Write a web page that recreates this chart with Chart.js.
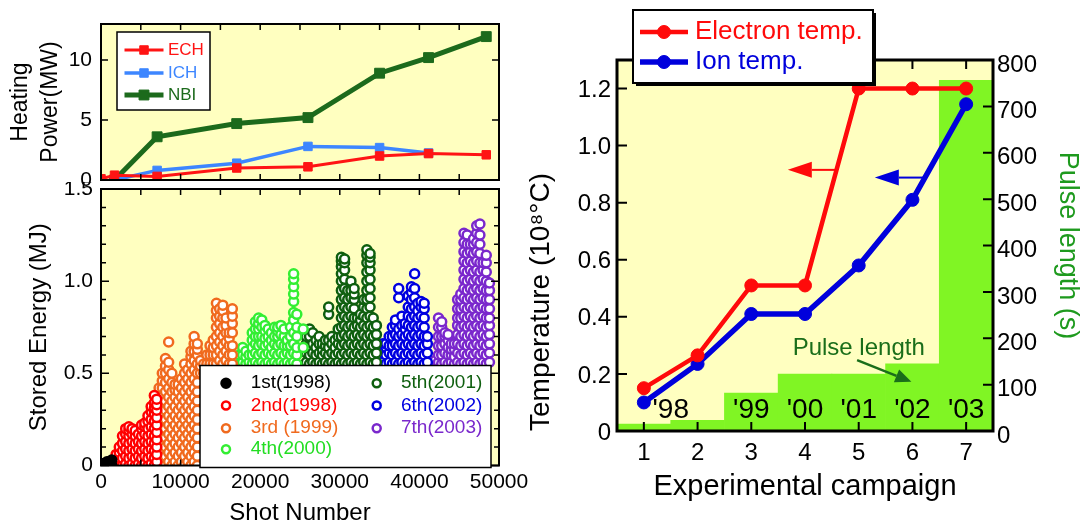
<!DOCTYPE html>
<html>
<head>
<meta charset="utf-8">
<title>LHD campaigns</title>
<script src="https://cdn.jsdelivr.net/npm/chart.js@4.4.1/dist/chart.umd.min.js"></script>
<style>
  html, body { margin: 0; padding: 0; background: #fff; }
  #wrap { position: relative; width: 1086px; height: 525px; overflow: hidden; }
  canvas { position: absolute; }
</style>
</head>
<body>
<div id="wrap">
  <canvas id="heat" width="540" height="195" style="left:0;top:0"></canvas>
  <canvas id="energy" width="540" height="343" style="left:0;top:182px"></canvas>
  <canvas id="temp" width="566" height="525" style="left:520px;top:0"></canvas>
</div>
<script>
// ---- heating power (MW) vs shot number ----
const echShots = [0, 1700, 7050, 17050, 26000, 35000, 41150, 48400];
const ech = [0.1, 0.4, 0.3, 1.0, 1.1, 2.0, 2.2, 2.1];
const ichShots = [1700, 7050, 17050, 26000, 35000, 41150];
const ich = [0, 0.8, 1.4, 2.8, 2.7, 2.25];
const nbiShots = [1700, 7050, 17050, 26000, 35000, 41150, 48400];
const nbi = [0, 3.6, 4.7, 5.2, 8.9, 10.2, 11.95];

// ---- stored energy (MJ), columns of [shot, [energies]] per campaign ----
const camp1 = [[150,[0,0.01]],[450,[0,0.01]],[750,[0,0.02]],[1050,[0,0.01,0.02]],[1350,[0,0.03]]];
const camp2 = [
  [1500,[0,.02,.03]], [1900,[0,.03,.06]], [2300,[0,.04,.07,.1]], [2700,[0,.04,.08,.12,.16]],
  [3100,[.01,.05,.09,.13,.17,.2]], [3500,[0,.04,.08,.12,.16,.19,.21]], [3900,[.01,.05,.09,.13,.17,.2]],
  [4300,[0,.04,.08,.12,.16,.19]], [4700,[.01,.05,.09,.13,.17]], [5100,[0,.04,.08,.12,.16,.2,.22]],
  [5500,[.01,.05,.09,.13,.17,.21,.23]], [5900,[0,.04,.08,.12,.16,.2,.24,.27]],
  [6300,[.01,.05,.09,.13,.17,.21,.25,.29,.32]], [6700,[0,.04,.08,.12,.16,.2,.24,.28,.31,.34,.38]],
  [7000,[.02,.06,.1,.14,.18,.22,.26,.3,.33,.36]]
];
const camp3 = [
  [7300,[0,.05,.1,.15,.2,.25,.3,.35,.39,.42]], [7700,[.02,.07,.12,.17,.22,.27,.32,.37,.42,.46,.5]],
  [8100,[0,.05,.1,.15,.2,.25,.3,.35,.4,.45,.5,.54,.58]], [8500,[.02,.07,.12,.17,.22,.27,.32,.37,.42,.47,.52,.56,.67]],
  [8900,[0,.05,.1,.15,.2,.25,.3,.35,.4,.45,.5]], [9300,[.02,.07,.12,.17,.22,.27,.32,.37,.41,.44]],
  [9700,[0,.05,.1,.15,.2,.25,.3,.35,.4,.44]], [10100,[.02,.07,.12,.17,.22,.27,.32,.37,.42,.47]],
  [10500,[0,.05,.1,.15,.2,.25,.3,.35,.4,.45,.5,.55]], [10900,[.02,.07,.12,.17,.22,.27,.32,.37,.42,.47,.52]],
  [11300,[0,.05,.1,.15,.2,.25,.3,.35,.4,.45,.5,.55,.59,.62]],
  [11700,[.02,.07,.12,.17,.22,.27,.32,.37,.42,.47,.52,.57,.62,.66,.7]],
  [12100,[0,.05,.1,.15,.2,.25,.3,.35,.4,.45,.5,.55,.6,.63,.66]],
  [12500,[.5,.54,.57]], [12900,[.5,.55]], [13300,[.5,.55,.6]], [13700,[.5,.55,.6,.65]],
  [14100,[.5,.55,.6,.64,.68]], [14500,[.5,.55,.6,.65,.7,.75,.8,.84,.88]],
  [14900,[.52,.57,.62,.67,.72,.77,.81,.85]], [15300,[.5,.55,.6,.65,.7,.75,.8,.84,.87]],
  [15700,[.52,.57,.62,.67,.72,.76,.8]], [16100,[.5,.55,.6,.65,.69,.72]],
  [16500,[.55,.6,.65,.72,.77,.81,.85]]
];
const camp4 = [
  [17400,[.55,.6]], [17800,[.56,.6,.64]], [18200,[.55,.59,.62]], [18600,[.56,.6]],
  [19000,[.55,.6,.64,.68,.72]], [19400,[.56,.61,.66,.7,.74,.78]], [19800,[.55,.6,.65,.7,.74,.77,.8]],
  [20200,[.56,.61,.66,.7,.75,.79]], [20600,[.55,.6,.65,.69,.73,.76]], [21000,[.56,.61,.66,.7,.74]],
  [21400,[.55,.6,.64,.68,.72]], [21800,[.56,.61,.66,.7,.75]], [22200,[.55,.6,.65,.7,.73,.75]],
  [22600,[.56,.61,.66,.71,.76]], [23000,[.55,.6,.65,.7,.74]], [23400,[.56,.61,.65,.68]],
  [23800,[.55,.6,.65,.7,.75]], [24200,[.56,.61,.66,.72,.79,.83,.89,.93,.97,1.01,1.04]],
  [24600,[.55,.6,.64,.7,.75,.82]], [25400,[.64,.74]]
];
const camp5 = [
  [25800,[.56,.61,.66,.7]], [26200,[.55,.6,.65,.7,.74]], [26600,[.56,.61,.66,.72]], [27000,[.55,.6,.64,.68]],
  [27400,[.56,.61,.66,.7]], [27800,[.55,.6,.63,.66]], [28200,[.56,.61,.65,.68]], [28600,[.55,.6,.64,.68,.82,.86]],
  [29000,[.56,.61,.66,.7]], [29400,[.55,.6,.64,.68]], [29800,[.56,.61,.66,.7,.74]],
  [30200,[.55,.6,.65,.7,.75,.8,.85,.9,.95,1,1.04,1.08,1.11,1.13]],
  [30600,[.56,.61,.66,.71,.76,.81,.86,.91,.96,1.01,1.06,1.1,1.12]],
  [31000,[.55,.6,.65,.7,.75,.8,.85,.9,.95]], [31400,[.56,.61,.66,.71,.76,.81,.86,.91,.95,1]],
  [31800,[.55,.6,.65,.7,.75,.8,.85,.9,.93,.96]], [32200,[.56,.61,.66,.71,.76,.8]],
  [32600,[.55,.6,.65,.7,.75,.79,.82]], [33000,[.56,.61,.66,.71,.76,.81,.86,.9]],
  [33400,[.55,.6,.65,.7,.75,.8,.85,.9,.95,1,1.05,1.1,1.14,1.17]],
  [33800,[.56,.61,.66,.71,.76,.81,.86,.91,.96,1.01,1.06,1.1,1.13,1.15]],
  [34200,[.55,.6,.65,.7,.75,.8]], [34600,[.56,.61,.66,.71,.76]]
];
const camp6 = [
  [35000,[.55,.6,.64]], [35400,[.56,.61,.66]], [35800,[.55,.6,.64,.66]], [36200,[.56,.61,.65,.7]],
  [36600,[.55,.6,.65,.7,.75]], [37000,[.56,.61,.66,.71,.76,.79]], [37400,[.55,.6,.65,.7,.74,.91,.96]],
  [37800,[.56,.61,.66,.71,.76,.81]], [38200,[.55,.6,.65,.7,.74,.77]], [38600,[.56,.61,.66,.71,.76,.81,.86,.92]],
  [39000,[.55,.6,.65,.7,.75,.8,.85,.9,.94,.97]], [39400,[.56,.61,.66,.71,.76,.81,.86,.91,.96,1.04]],
  [39800,[.55,.6,.65,.7,.75,.8,.84,.88]], [40200,[.56,.61,.66,.71,.76,.81,.86,.89]],
  [40600,[.55,.6,.65,.7,.75,.8,.85,.88]], [41000,[.56,.61,.66,.7]]
];
const camp7 = [
  [42000,[.55,.57]], [42400,[.56,.6,.65,.7,.75,.8]], [42800,[.55,.6,.65,.7,.75,.78]],
  [43200,[.56,.61,.66,.7,.72]], [43600,[.55,.6,.64,.68,.71]], [44000,[.56,.6,.63,.66]],
  [44400,[.55,.59,.63,.66]], [44800,[.56,.61,.66,.71,.76,.8,.85,.9]],
  [45200,[.55,.6,.65,.7,.75,.8,.85,.9,.93]],
  [45600,[.56,.61,.66,.71,.76,.81,.86,.91,.96,1.01,1.06,1.11,1.16,1.21,1.26]],
  [46000,[.55,.6,.65,.7,.75,.8,.85,.9,.95,1,1.05,1.1,1.15,1.2,1.25]],
  [46400,[.56,.61,.66,.71,.76,.81,.86,.91,.96,1.01,1.06,1.11,1.16,1.2]],
  [46800,[.55,.6,.65,.7,.75,.8,.85,.9,.95,1,1.05,1.1,1.15,1.2,1.23]],
  [47200,[.56,.61,.66,.71,.76,.81,.86,.91,.96,1.01,1.06,1.11,1.16,1.21,1.26,1.3]],
  [47600,[.55,.6,.65,.7,.75,.8,.85,.9,.95,1,1.05,1.1,1.15,1.2,1.25,1.31]],
  [48000,[.56,.61,.66,.71,.76,.81,.86,.91,.96,1.01,1.06,1.1]],
  [48400,[.55,.6,.65,.7,.75,.8,.85,.9,.95,1,1.05,1.1,1.14]],
  [48800,[.56,.61,.66,.71,.76,.8,.85,.9,.95,.99]]
];
const campLabels = ["1st(1998)", "2nd(1998)", "3rd (1999)", "4th(2000)", "5th(2001)", "6th(2002)", "7th(2003)"];

// ---- temperature and pulse length per campaign ----
const campaigns = ["1", "2", "3", "4", "5", "6", "7"];
const electronTemp = [0.15, 0.265, 0.51, 0.51, 1.2, 1.2, 1.2];
const ionTemp = [0.10, 0.235, 0.41, 0.41, 0.58, 0.81, 1.145];
const pulseLength = [15, 23, 82, 123, 123, 145, 756];
const yearLabels = ["'98", "'99", "'00", "'01", "'02", "'03"];
const yearAt = [0.5, 2, 3, 4, 5, 6]; // category index where each year label sits

const FONT = '"Liberation Sans", Arial, Helvetica, sans-serif';
Chart.defaults.font.family = FONT;
Chart.defaults.color = '#000';
Chart.defaults.animation = false;

function toPoints(shots, vals) {
  return shots.map((s, i) => ({ x: s, y: vals[i] }));
}
function columnsToPoints(cols) {
  let pts = [];
  cols.forEach(c => c[1].forEach(e => pts.push({ x: c[0], y: e })));
  return pts;
}
// lock axis sizes so the plot areas land where they are in the figure
function fixWidth(w) {
  return function (scale) { scale.width = w; scale.paddingTop = 0; scale.paddingBottom = 0; };
}
function fixHeight(h) {
  return function (scale) { scale.height = h; scale.paddingLeft = 0; scale.paddingRight = 0; };
}

// light yellow plot area
const plotBg = {
  id: 'plotBg',
  beforeDraw(chart) {
    const a = chart.chartArea, ctx = chart.ctx;
    ctx.save();
    ctx.fillStyle = '#ffffc0';
    ctx.fillRect(a.left, a.top, a.right - a.left, a.bottom - a.top);
    ctx.restore();
  }
};

// box around the plot, ticks pointing inwards
const frame = {
  id: 'frame',
  afterDatasetsDraw(chart, args, o) {
    const a = chart.chartArea, ctx = chart.ctx;
    const xs = chart.scales.x, ys = chart.scales[o.leftScale || 'y'], rs = chart.scales[o.rightScale || 'y'];
    ctx.save();
    ctx.strokeStyle = '#000';
    ctx.lineWidth = o.tickWidth || 1.5;
    ctx.beginPath();
    (o.xTicks || []).forEach(v => {
      const px = xs.getPixelForValue(v);
      ctx.moveTo(px, a.bottom); ctx.lineTo(px, a.bottom - o.xLen);
      ctx.moveTo(px, a.top); ctx.lineTo(px, a.top + o.xLen);
    });
    (o.yTicks || []).forEach(t => {
      const py = ys.getPixelForValue(t[0]);
      ctx.moveTo(a.left, py); ctx.lineTo(a.left + t[1], py);
    });
    (o.rTicks || []).forEach(t => {
      const py = rs.getPixelForValue(t[0]);
      ctx.moveTo(a.right, py); ctx.lineTo(a.right - t[1], py);
    });
    ctx.stroke();
    ctx.lineWidth = o.width || 2;
    ctx.strokeRect(a.left, a.top, a.right - a.left, a.bottom - a.top);
    ctx.restore();
  }
};

// legend box drawn inside / over the plot
const boxLegend = {
  id: 'boxLegend',
  afterDraw(chart, args, o) {
    if (!o.items) return;
    const ctx = chart.ctx, a = chart.chartArea;
    const bx = a.left + o.left, by = a.top + o.top;
    ctx.save();
    if (o.shadow) {
      ctx.fillStyle = '#000';
      ctx.fillRect(bx + 3, by + 3, o.width, o.height);
    }
    ctx.fillStyle = '#fff';
    ctx.fillRect(bx, by, o.width, o.height);
    ctx.strokeStyle = '#000';
    ctx.lineWidth = o.border;
    ctx.strokeRect(bx, by, o.width, o.height);
    ctx.font = o.font;
    ctx.textBaseline = 'middle';
    ctx.textAlign = 'left';
    o.items.forEach(it => {
      const ds = chart.data.datasets[it.ds];
      const col = ds.borderColor;
      const mx = bx + it.mx, my = by + it.row;
      if (o.line) {
        ctx.strokeStyle = col;
        ctx.lineWidth = ds.borderWidth;
        ctx.beginPath();
        ctx.moveTo(mx - o.line, my); ctx.lineTo(mx + o.line, my);
        ctx.stroke();
      }
      ctx.fillStyle = ds.pointBackgroundColor || col;
      ctx.strokeStyle = col;
      ctx.lineWidth = ds.pointBorderWidth || 1;
      Chart.helpers.drawPoint(ctx, { pointStyle: ds.pointStyle || 'circle', radius: it.r || ds.pointRadius, borderWidth: ds.pointBorderWidth || 1, rotation: 0 }, mx, my);
      ctx.fillStyle = it.textColor || col;
      ctx.fillText(ds.label, bx + it.tx, my);
    });
    ctx.restore();
  }
};

// arrows and text notes placed in data units
function drawArrow(ctx, x1, y1, x2, y2, color, lw, head, half) {
  const ang = Math.atan2(y2 - y1, x2 - x1);
  const bx = x2 - head * Math.cos(ang), by = y2 - head * Math.sin(ang);
  ctx.strokeStyle = color; ctx.fillStyle = color; ctx.lineWidth = lw;
  ctx.beginPath(); ctx.moveTo(x1, y1); ctx.lineTo(bx, by); ctx.stroke();
  ctx.beginPath();
  ctx.moveTo(x2, y2);
  ctx.lineTo(bx + half * Math.sin(ang), by - half * Math.cos(ang));
  ctx.lineTo(bx - half * Math.sin(ang), by + half * Math.cos(ang));
  ctx.closePath(); ctx.fill();
}
const notes = {
  id: 'notes',
  afterDatasetsDraw(chart, args, o) {
    const ctx = chart.ctx, xs = chart.scales.x;
    ctx.save();
    (o.texts || []).forEach(t => {
      const ys = chart.scales[t.scale];
      ctx.font = t.font; ctx.fillStyle = t.color;
      ctx.textAlign = 'center'; ctx.textBaseline = 'middle';
      ctx.fillText(t.text, xs.getPixelForValue(t.x), ys.getPixelForValue(t.y));
    });
    (o.arrows || []).forEach(ar => {
      const ys = chart.scales[ar.scale];
      drawArrow(ctx, xs.getPixelForValue(ar.from[0]), ys.getPixelForValue(ar.from[1]),
        xs.getPixelForValue(ar.to[0]), ys.getPixelForValue(ar.to[1]), ar.color, ar.lw, ar.head, ar.half);
    });
    ctx.restore();
  }
};

const shotTicks = [];
for (let s = 0; s <= 50000; s += 5000) shotTicks.push(s);

// ---------- heating power ----------
new Chart(document.getElementById('heat'), {
  type: 'line',
  data: {
    datasets: [
      { label: 'ECH', data: toPoints(echShots, ech), borderColor: '#ff1414', backgroundColor: '#ff1414',
        pointBackgroundColor: '#ff1414', borderWidth: 3, pointStyle: 'rect', pointRadius: 6, pointBorderWidth: 1 },
      { label: 'ICH', data: toPoints(ichShots, ich), borderColor: '#3d86ff', backgroundColor: '#3d86ff',
        pointBackgroundColor: '#3d86ff', borderWidth: 3.5, pointStyle: 'rect', pointRadius: 6, pointBorderWidth: 1 },
      { label: 'NBI', data: toPoints(nbiShots, nbi), borderColor: '#1c6a1c', backgroundColor: '#1c6a1c',
        pointBackgroundColor: '#1c6a1c', borderWidth: 5, pointStyle: 'rect', pointRadius: 7, pointBorderWidth: 1 }
    ]
  },
  options: {
    responsive: false,
    layout: { padding: { top: 24, left: 0, right: 41, bottom: 0 } },
    scales: {
      x: { type: 'linear', min: 0, max: 50000, ticks: { display: false },
        grid: { display: false, drawTicks: false }, border: { display: false }, afterFit: fixHeight(15) },
      y: { min: 0, max: 13, ticks: { stepSize: 5, includeBounds: false, padding: 9, font: { size: 21 } },
        grid: { display: false, drawTicks: false }, border: { display: false },
        title: { display: true, text: ['Heating', 'Power(MW)'], font: { size: 23, lineHeight: 1.3 }, padding: { top: 6, bottom: 0 } },
        afterFit: fixWidth(101) }
    },
    plugins: {
      legend: { display: false }, tooltip: { enabled: false },
      frame: { xTicks: shotTicks, xLen: 6, yTicks: [[0, 7], [5, 7], [10, 7]], rTicks: [[0, 7], [5, 7], [10, 7]], width: 2 },
      boxLegend: { left: 16, top: 8, width: 93, height: 78, border: 1.5, font: '17px ' + FONT, line: 19.5,
        items: [{ ds: 0, mx: 27, tx: 51, row: 18 }, { ds: 1, mx: 27, tx: 51, row: 41 }, { ds: 2, mx: 27, tx: 51, row: 63 }] }
    }
  },
  plugins: [plotBg, frame, boxLegend]
});

// ---------- stored energy ----------
const campCols = [camp1, camp2, camp3, camp4, camp5, camp6, camp7];
const campColors = ['#000000', '#ff0000', '#f06a1e', '#33ee33', '#0f5f0f', '#0000e0', '#7a28cc'];
const energySets = campCols.map((cols, i) => ({
  label: campLabels[i],
  data: columnsToPoints(cols),
  borderColor: campColors[i],
  backgroundColor: campColors[i],
  pointBackgroundColor: i === 0 ? '#000000' : '#ffffff',
  pointRadius: 4.5,
  pointBorderWidth: 2.5
}));
const energyTicks = [];
for (let k = 0; k <= 15; k++) energyTicks.push([k / 10, k % 5 === 0 ? 8 : 5]);

new Chart(document.getElementById('energy'), {
  type: 'scatter',
  data: { datasets: energySets },
  options: {
    responsive: false,
    layout: { padding: { top: 5.5, left: 0, right: 41, bottom: 0 } },
    scales: {
      x: { type: 'linear', min: 0, max: 50000,
        ticks: { stepSize: 10000, padding: 4, font: { size: 21 }, callback: v => String(v) },
        grid: { display: false, drawTicks: false }, border: { display: false },
        title: { display: true, text: 'Shot Number', font: { size: 24, lineHeight: 1 }, padding: { top: 0, bottom: 0 } },
        afterFit: fixHeight(59.5) },
      y: { min: 0, max: 1.5,
        ticks: { stepSize: 0.5, padding: 8, font: { size: 21 }, callback: v => v === 0 ? '0' : v.toFixed(1) },
        grid: { display: false, drawTicks: false }, border: { display: false },
        title: { display: true, text: 'Stored Energy (MJ)', font: { size: 24 }, padding: { top: 25, bottom: 0 } },
        afterFit: fixWidth(101) }
    },
    plugins: {
      legend: { display: false }, tooltip: { enabled: false },
      frame: { xTicks: shotTicks, xLen: 6, yTicks: energyTicks, rTicks: energyTicks, width: 2 },
      boxLegend: { left: 99, top: 176.5, width: 291, height: 102, border: 1.5, font: '19px ' + FONT,
        items: [
          { ds: 0, mx: 26, tx: 50.7, row: 17.7, r: 4.5 },
          { ds: 1, mx: 26, tx: 50.7, row: 40, r: 4 },
          { ds: 2, mx: 26, tx: 50.7, row: 62.7, r: 4 },
          { ds: 3, mx: 26, tx: 50.7, row: 83.7, r: 4, textColor: '#22dd22' },
          { ds: 4, mx: 176.7, tx: 201, row: 17.7, r: 4 },
          { ds: 5, mx: 176.7, tx: 201, row: 40, r: 4 },
          { ds: 6, mx: 176.7, tx: 201, row: 62.7, r: 4 }
        ] }
    }
  },
  plugins: [plotBg, frame, boxLegend]
});

// ---------- temperature & pulse length ----------
const yearTexts = yearLabels.map((t, i) => ({ text: t, x: yearAt[i], y: 45, scale: 'y1', font: '28px ' + FONT, color: '#000' }));

new Chart(document.getElementById('temp'), {
  data: {
    labels: campaigns,
    datasets: [
      { type: 'line', label: 'Electron temp.', data: electronTemp, yAxisID: 'y', order: 0,
        borderColor: '#ff0a0a', backgroundColor: '#ff0a0a', pointBackgroundColor: '#ff0a0a',
        borderWidth: 4.5, pointRadius: 6.5, pointBorderWidth: 1 },
      { type: 'line', label: 'Ion temp.', data: ionTemp, yAxisID: 'y', order: 1,
        borderColor: '#0000dc', backgroundColor: '#0000dc', pointBackgroundColor: '#0000dc',
        borderWidth: 5.5, pointRadius: 6.5, pointBorderWidth: 1 },
      { type: 'bar', label: 'Pulse length', data: pulseLength, yAxisID: 'y1', order: 5,
        backgroundColor: '#80f524', borderWidth: 0, barPercentage: 1, categoryPercentage: 1 }
    ]
  },
  options: {
    responsive: false,
    layout: { padding: { top: 60, left: 0, right: 0, bottom: 0 } },
    scales: {
      x: { type: 'category', offset: true,
        ticks: { padding: 8, font: { size: 24 } },
        grid: { display: false, drawTicks: false }, border: { display: false },
        title: { display: true, text: 'Experimental campaign', font: { size: 29 }, padding: { top: 0, bottom: 21 } },
        afterFit: fixHeight(94) },
      y: { position: 'left', min: 0, max: 1.3,
        ticks: { stepSize: 0.2, includeBounds: false, padding: 6, labelOffset: 2, font: { size: 24 },
          callback: v => v === 0 ? '0' : v.toFixed(1) },
        grid: { display: false, drawTicks: false }, border: { display: false },
        title: { display: true, text: 'Temperature (10⁸°C)', align: 'start', font: { size: 28 }, padding: { top: 4, bottom: 0 } },
        afterFit: fixWidth(97) },
      y1: { position: 'right', min: 0, max: 800,
        ticks: { stepSize: 100, padding: 4, labelOffset: 5, font: { size: 24 } },
        grid: { display: false, drawTicks: false }, border: { display: false },
        title: { display: true, text: 'Pulse length (s)', color: '#1e9a1e', font: { size: 27 }, padding: { top: 2, bottom: 0 } },
        afterFit: fixWidth(93) }
    },
    plugins: {
      legend: { display: false }, tooltip: { enabled: false },
      notes: {
        texts: yearTexts.concat([
          { text: 'Pulse length', x: 4.0, y: 178, scale: 'y1', font: '24px ' + FONT, color: '#1a6e1a' }
        ]),
        arrows: [
          { from: [3.56, 0.915], to: [2.68, 0.915], scale: 'y', color: '#ff0a0a', lw: 2, head: 24, half: 8 },
          { from: [5.2, 0.888], to: [4.3, 0.888], scale: 'y', color: '#0000dc', lw: 2, head: 24, half: 8 },
          { from: [3.97, 153], to: [4.98, 106], scale: 'y1', color: '#1a6e1a', lw: 2.5, head: 16, half: 7 }
        ]
      },
      frame: { xTicks: [0, 1, 2, 3, 4, 5, 6], xLen: 9, tickWidth: 2,
        leftScale: 'y', rightScale: 'y1',
        yTicks: [[0, 10], [0.2, 10], [0.4, 10], [0.6, 10], [0.8, 10], [1.0, 10], [1.2, 10]],
        rTicks: [[100, 10], [200, 10], [300, 10], [400, 10], [500, 10], [600, 10], [700, 10], [800, 10]],
        width: 3 },
      boxLegend: { left: 16, top: -50, width: 240, height: 73, border: 2, shadow: true, font: '26px ' + FONT, line: 24,
        items: [{ ds: 0, mx: 31, tx: 62, row: 22 }, { ds: 1, mx: 31, tx: 62, row: 52 }] }
    }
  },
  plugins: [plotBg, notes, frame, boxLegend]
});
</script>
</body>
</html>
